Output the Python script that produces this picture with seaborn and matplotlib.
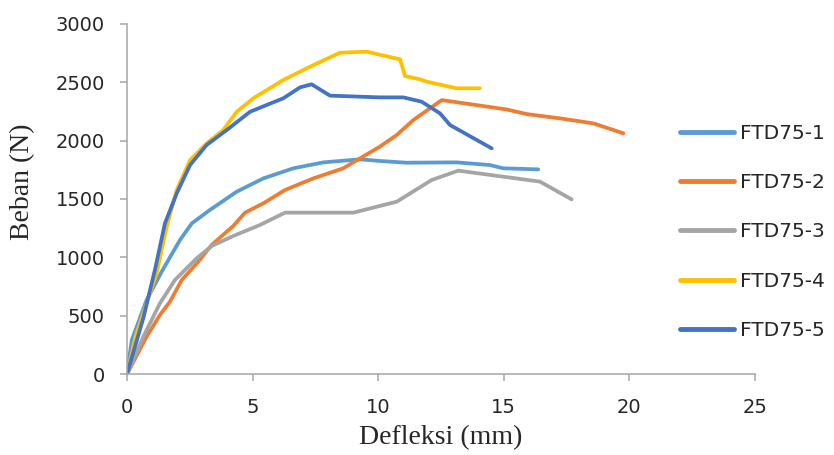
import numpy as np
import pandas as pd
import matplotlib
matplotlib.use("Agg")
import matplotlib.pyplot as plt
import seaborn as sns
from matplotlib.lines import Line2D

# ---- data ----
series_names = ["FTD75-1", "FTD75-2", "FTD75-3", "FTD75-4", "FTD75-5"]

x1 = [0, 0.19, 0.78, 1.38, 2.11, 2.58, 3.30, 4.37, 5.43, 6.62, 7.82, 9.28, 10.07, 11.13, 13.12, 14.45, 14.98, 16.37]
y1 = [0, 291, 634, 877, 1149, 1291, 1406, 1563, 1677, 1763, 1814, 1840, 1826, 1811, 1814, 1791, 1763, 1754]

x2 = [0, 0.78, 1.31, 1.71, 2.18, 2.84, 3.37, 4.23, 4.70, 5.43, 6.29, 7.42, 8.61, 9.28, 10.07, 10.74, 11.40, 12.53, 15.10, 15.91, 17.24, 18.57, 19.76]
y2 = [0, 320, 506, 620, 806, 963, 1106, 1269, 1383, 1463, 1577, 1677, 1763, 1849, 1949, 2049, 2177, 2348, 2268, 2228, 2191, 2148, 2063]

x3 = [0, 0.65, 1.31, 1.91, 2.77, 3.37, 4.23, 5.29, 6.29, 9.01, 10.74, 12.13, 13.19, 16.44, 17.70]
y3 = [0, 320, 606, 806, 991, 1097, 1183, 1277, 1383, 1383, 1477, 1663, 1743, 1649, 1497]

x4 = [0, 0.35, 0.65, 1.18, 1.58, 1.98, 2.51, 3.17, 3.83, 4.37, 5.03, 6.22, 7.42, 8.48, 9.54, 10.87, 11.07, 11.66, 11.93, 12.53, 13.12, 14.05]
y4 = [0, 330, 521, 865, 1263, 1577, 1834, 1977, 2091, 2248, 2363, 2520, 2648, 2754, 2763, 2697, 2554, 2526, 2506, 2477, 2449, 2449]

x5 = [0, 0.65, 1.11, 1.51, 1.98, 2.51, 3.17, 3.97, 4.90, 6.22, 6.89, 7.35, 8.08, 10.07, 11.00, 11.73, 12.46, 12.86, 14.52]
y5 = [0, 480, 891, 1291, 1549, 1791, 1963, 2091, 2248, 2363, 2457, 2483, 2386, 2371, 2371, 2334, 2234, 2134, 1934]

colors = ["#5B9BD5", "#ED7D31", "#A5A5A5", "#FFC000", "#4472C4"]

x_ticks = [0, 5, 10, 15, 20, 25]
y_ticks = [0, 500, 1000, 1500, 2000, 2500, 3000]

frames = []
for name, xs, ys in zip(series_names, [x1, x2, x3, x4, x5], [y1, y2, y3, y4, y5]):
    frames.append(pd.DataFrame({"Defleksi": xs, "Beban": ys, "Series": name}))
df = pd.concat(frames, ignore_index=True)

# ---- styling ----
sns.set_style("ticks")
plt.rcParams["font.family"] = ["DejaVu Sans"]

fig = plt.figure(figsize=(8.34, 4.55), dpi=100)
ax = fig.add_axes([127 / 834, 1 - 374 / 455, 628 / 834, 350 / 455])

sns.lineplot(data=df, x="Defleksi", y="Beban", hue="Series", hue_order=series_names,
             palette=colors, sort=False, estimator=None, linewidth=2.7, ax=ax,
             legend=False, solid_capstyle="round", solid_joinstyle="round")

ax.set_xlim(0, 25)
ax.set_ylim(0, 3000)
ax.set_xticks(x_ticks)
ax.set_yticks(y_ticks)
ax.set_xticklabels([str(v) for v in x_ticks])
ax.set_yticklabels([str(v) for v in y_ticks])

for side in ["top", "right"]:
    ax.spines[side].set_visible(False)
for side in ["left", "bottom"]:
    ax.spines[side].set_color("#A6A6A6")
    ax.spines[side].set_linewidth(1.1)

ax.tick_params(axis="both", colors="#A6A6A6", labelcolor="#262626", labelsize=14,
               width=1.1, length=5)
ax.tick_params(axis="y", pad=11)
ax.tick_params(axis="x", pad=12)

ax.set_xlabel("Defleksi (mm)", fontsize=20, family=["Liberation Serif", "DejaVu Serif"])
ax.set_ylabel("Beban (N)", fontsize=20, family=["Liberation Serif", "DejaVu Serif"])
ax.xaxis.set_label_coords(0.5, -0.145)
ax.yaxis.set_label_coords(-0.146, 0.55)

handles = [Line2D([0], [0], color=c, lw=3.5, solid_capstyle="round") for c in colors]
leg = fig.legend(handles, series_names, loc="center left",
                 bbox_to_anchor=(680 / 834, 1 - 232 / 455), frameon=False,
                 fontsize=14.5, handlelength=2.7, handletextpad=0.3, labelspacing=1.5,
                 borderpad=0, borderaxespad=0)
for t in leg.get_texts():
    t.set_color("#262626")

fig.savefig("out.png", dpi=100)
